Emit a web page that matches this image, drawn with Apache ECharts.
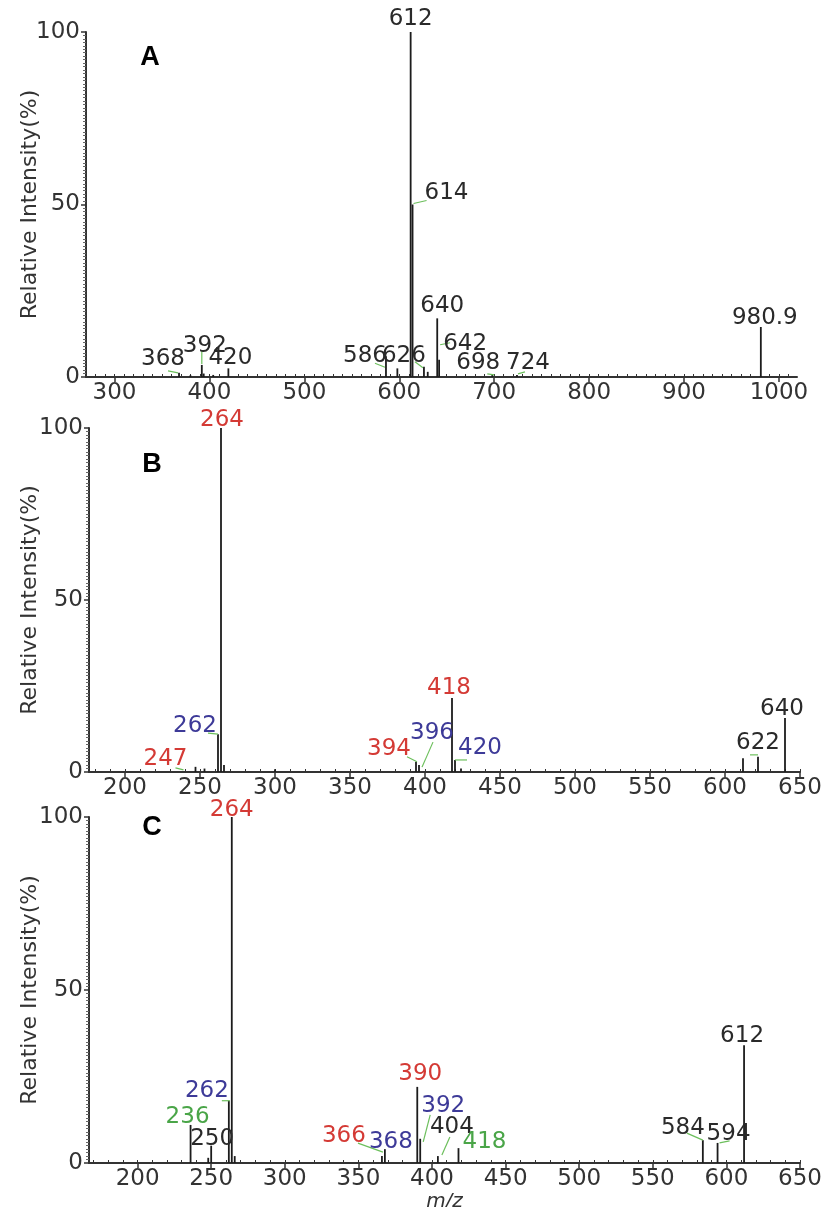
<!DOCTYPE html>
<html>
<head>
<meta charset="utf-8">
<script src="https://cdn.jsdelivr.net/npm/echarts@6/dist/echarts.min.js"></script>
<style>html,body{margin:0;padding:0;background:#fff}#c{width:827px;height:1207px}</style>
</head>
<body>
<div id="c"></div>
<script>
// ---------- DATA ----------
// Panel A (MS of parent)
const A_mz  = [368, 380, 392, 394, 404, 420, 586, 598, 612, 614, 626, 630, 640, 642, 698, 724, 980.9];
const A_int = [1.2, 0.5, 3.5, 1, 0.6, 2.5, 6, 2.5, 100, 50, 3, 1.5, 17, 5, 0.6, 0.6, 14.5];
const A_labelPeak = [612, 614, 640, 642, 626, 586, 392, 368, 420, 698, 724, 980.9];
const A_labelText = ['612', '614', '640', '642', '626', '586', '392', '368', '420', '698', '724', '980.9'];

// Panel B (MS/MS of 640)
const B_mz  = [247, 253, 262, 264, 266, 300, 394, 396, 418, 420, 424, 612, 622, 640];
const B_int = [1.5, 1, 11, 100, 2, 0.8, 3, 2, 21.5, 3.5, 1, 4, 4.4, 15.7];
const B_labelPeak = [264, 262, 247, 418, 394, 396, 420, 622, 640];
const B_labelText = ['264', '262', '247', '418', '394', '396', '420', '622', '640'];

// Panel C (MS/MS of 612)
const C_mz  = [236, 248, 250, 262, 264, 266, 366, 368, 390, 392, 404, 418, 584, 594, 612];
const C_int = [11, 1.5, 5, 18, 100, 2, 2, 4, 22, 7, 2, 4.3, 6.6, 5.8, 34];
const C_labelPeak = [264, 262, 236, 250, 366, 368, 390, 392, 404, 418, 584, 594, 612];
const C_labelText = ['264', '262', '236', '250', '366', '368', '390', '392', '404', '418', '584', '594', '612'];

const A_ticks = [300, 400, 500, 600, 700, 800, 900, 1000];
const BC_ticks = [200, 250, 300, 350, 400, 450, 500, 550, 600, 650];

// ---------- STYLES (label placement in pixels relative to peak top) ----------
const RED = '#d43a35', BLUE = '#3d3a98', GREEN = '#4aa548', BLACK = '#2a2a2a', LEAD = '#6cbf5c';
const A_labelColor = [BLACK, BLACK, BLACK, BLACK, BLACK, BLACK, BLACK, BLACK, BLACK, BLACK, BLACK, BLACK];
const A_labelOff = [[0,-13],[34,-11],[5,-12],[26,-16],[-20,-11],[-21,0],[3,-19],[-16,-14],[2,-10],[-14,-12],[11,-12],[4,-9]];
const A_leader = [null,[1,-1,14,-4],null,[1,-15,11,-17],[-9,-5,-1,1],[-11,7,-1,11],[0,-15,0,-1],[-11,-2,-1,0],null,[-5,-1,2,0],[1,-1,8,-3],null];

const B_labelColor = [RED, BLUE, RED, RED, RED, BLUE, BLUE, BLACK, BLACK];
const B_labelOff = [[1,-8],[-23,-8],[-30,-8],[-3,-10],[-27,-13],[13,-32],[25,-12],[0,-14],[-3,-9]];
const B_leader = [null,[-10,-1,0,0],[-20,1,-12,3],null,[-9,-5,1,0],[14,-23,3,2],[0,0,12,0],[-8,-2,0,-2],null];

const C_labelColor = [RED, BLUE, GREEN, BLACK, RED, BLUE, RED, BLUE, BLACK, GREEN, BLACK, BLACK, BLACK];
const C_labelOff = [[0,-7],[-22,-10],[-3,-8],[1,-7],[-38,-20],[6,-7],[3,-13],[23,-33],[14,-29],[26,-6],[-20,-12],[11,-9],[-2,-9]];
const C_leader = [null,[-7,0,1,0],null,null,[-24,-13,1,-4],null,null,[10,-24,3,3],[12,-19,4,-1],null,[-16,-7,0,0],[2,0,12,-2],null];

const FONT = 'DejaVu Sans';
const FS = 23;
const AXC = '#333';

const chart = echarts.init(document.getElementById('c'), null, {renderer: 'canvas'});

function peaks(mz, inten) { return mz.map((m, i) => [m, inten[i]]); }
function lookup(mz, inten, m) { const i = mz.indexOf(m); return i >= 0 ? inten[i] : 0; }

function stickSeries(gi, mz, inten) {
  return {
    type: 'custom', xAxisIndex: gi * 2, yAxisIndex: gi, data: peaks(mz, inten), silent: true,
    renderItem: function (params, api) {
      const x = api.value(0), y = api.value(1);
      const p0 = api.coord([x, 0]), p1 = api.coord([x, y]);
      return {type: 'line', shape: {x1: p0[0], y1: p0[1], x2: p1[0], y2: p1[1]},
              style: {stroke: '#1c1c1c', lineWidth: 1.8}};
    }
  };
}

function labelSeries(gi, mz, inten, lp, lt, col, off, lead) {
  const data = lp.map((m, i) => [m, lookup(mz, inten, m), i]);
  return {
    type: 'custom', xAxisIndex: gi * 2, yAxisIndex: gi, data: data, silent: true, z: 5,
    renderItem: function (params, api) {
      const idx = api.value(2);
      const p = api.coord([api.value(0), api.value(1)]);
      const children = [];
      const L = lead[idx];
      if (L) {
        children.push({type: 'line', shape: {x1: p[0] + L[0], y1: p[1] + L[1], x2: p[0] + L[2], y2: p[1] + L[3]},
                       style: {stroke: LEAD, lineWidth: 1.2}});
      }
      children.push({type: 'text', x: p[0] + off[idx][0], y: p[1] + off[idx][1],
        style: {text: lt[idx], fill: col[idx], font: FS + 'px "' + FONT + '"', align: 'center', verticalAlign: 'middle'}});
      return {type: 'group', children: children};
    }
  };
}

const grids = [
  {left: 86, top: 32, width: 711, height: 345, outerBoundsMode: 'none', containLabel: false},
  {left: 89, top: 428, width: 711, height: 344, outerBoundsMode: 'none', containLabel: false},
  {left: 89, top: 817, width: 711, height: 346, outerBoundsMode: 'none', containLabel: false}
];
const xr = [[270, 1019], [176, 650], [167, 650]];
const majors = [A_ticks, BC_ticks, BC_ticks];
const minorStep = [10, 10, 10];

const xAxes = [], yAxes = [];
for (let g = 0; g < 3; g++) {
  const mins = [];
  for (let v = Math.ceil(xr[g][0] / minorStep[g]) * minorStep[g]; v <= xr[g][1]; v += minorStep[g]) mins.push(v);
  xAxes.push({
    type: 'value', gridIndex: g, min: xr[g][0], max: xr[g][1], position: 'bottom',
    axisLine: {show: true, onZero: false, lineStyle: {color: AXC, width: 2}},
    axisTick: {show: true, customValues: majors[g], length: 5, lineStyle: {color: AXC, width: 1.5}},
    axisLabel: {customValues: majors[g], fontSize: FS, fontFamily: FONT, color: AXC, margin: 5,
                formatter: function (v) { return String(v); }},
    splitLine: {show: false},
    name: g === 2 ? 'm/z' : '', nameLocation: 'middle', nameGap: 20,
    nameTextStyle: {fontSize: 20, fontFamily: FONT, fontStyle: 'italic', color: AXC}
  });
  xAxes.push({
    type: 'value', gridIndex: g, min: xr[g][0], max: xr[g][1], position: 'bottom',
    axisLine: {show: false}, axisLabel: {show: false}, splitLine: {show: false},
    axisTick: {show: true, customValues: mins, inside: true, length: 3, lineStyle: {color: AXC, width: 1}}
  });
  yAxes.push({
    type: 'value', gridIndex: g, min: 0, max: 100, interval: 50,
    axisLine: {show: true, lineStyle: {color: AXC, width: 2}},
    axisTick: {show: true, length: 5, lineStyle: {color: AXC, width: 1.5}},
    minorTick: {show: true, splitNumber: 50, length: 3, lineStyle: {color: '#666', width: 1}},
    axisLabel: {fontSize: FS, fontFamily: FONT, color: AXC, margin: 6},
    splitLine: {show: false},
    name: 'Relative Intensity(%)', nameLocation: 'middle', nameMoveOverlap: false,
    nameGap: g === 0 ? 45 : 48,
    nameTextStyle: {fontSize: 22, fontFamily: FONT, color: AXC}
  });
}

const option = {
  backgroundColor: '#fff',
  animation: false,
  grid: grids,
  xAxis: xAxes,
  yAxis: yAxes,
  graphic: [
    {type: 'text', x: 150, y: 58, style: {text: 'A', font: 'bold 27px "Liberation Sans"', fill: '#000', align: 'center', verticalAlign: 'middle'}},
    {type: 'text', x: 152, y: 465, style: {text: 'B', font: 'bold 27px "Liberation Sans"', fill: '#000', align: 'center', verticalAlign: 'middle'}},
    {type: 'text', x: 152, y: 828, style: {text: 'C', font: 'bold 27px "Liberation Sans"', fill: '#000', align: 'center', verticalAlign: 'middle'}}
  ],
  series: [
    stickSeries(0, A_mz, A_int),
    stickSeries(1, B_mz, B_int),
    stickSeries(2, C_mz, C_int),
    labelSeries(0, A_mz, A_int, A_labelPeak, A_labelText, A_labelColor, A_labelOff, A_leader),
    labelSeries(1, B_mz, B_int, B_labelPeak, B_labelText, B_labelColor, B_labelOff, B_leader),
    labelSeries(2, C_mz, C_int, C_labelPeak, C_labelText, C_labelColor, C_labelOff, C_leader)
  ]
};
chart.setOption(option);
</script>
</body>
</html>
